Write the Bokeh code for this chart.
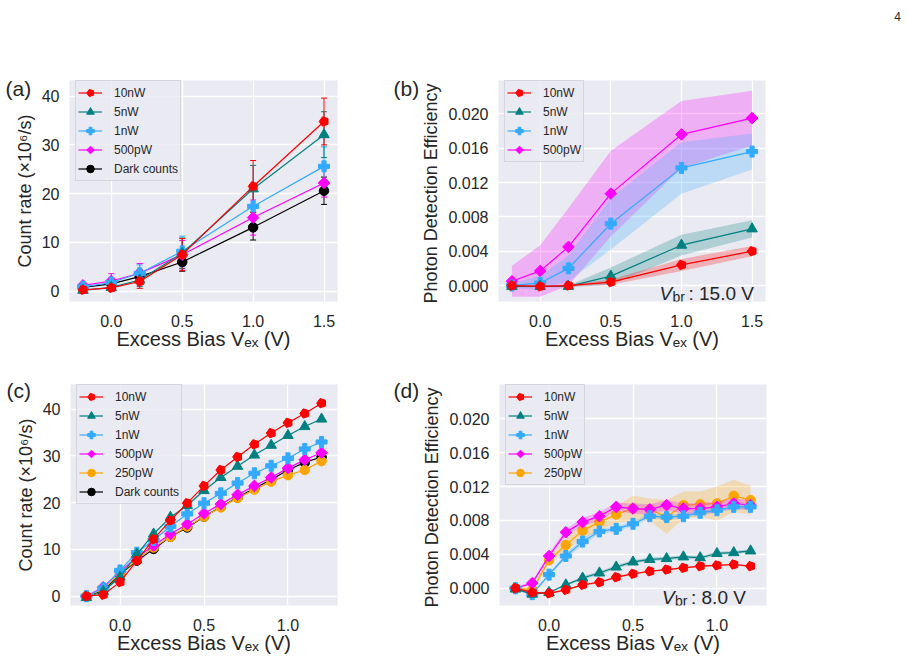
import math

from bokeh.embed import file_html
from bokeh.layouts import column, row
from bokeh.models import (ColumnDataSource, FixedTicker, Label, Legend, LegendItem,
                          Ngon, PrintfTickFormatter, Range1d, TeeHead, Whisker)
from bokeh.plotting import figure
from bokeh.resources import INLINE

# ---------------------------------------------------------------- data
# (a)/(b): device with V_br = 15.0 V
bias_a = [-0.2, 0.0, 0.2, 0.5, 1.0, 1.5]
rate_a_10nW = [0.3, 0.7, 2.0, 7.5, 21.5, 34.8]
rate_a_5nW = [0.2, 0.8, 2.3, 7.8, 21.0, 32.1]
rate_a_1nW = [0.9, 1.8, 3.7, 8.2, 17.4, 25.6]
rate_a_500pW = [1.2, 2.1, 3.7, 7.5, 15.1, 22.2]
rate_a_dark = [0.8, 1.5, 3.0, 6.0, 13.1, 20.6]
err_a_10nW = [0.5, 0.7, 1.4, 3.3, 5.3, 4.8]
err_a_5nW = [0.5, 0.7, 1.3, 3.1, 4.8, 4.7]
err_a_1nW = [0.6, 1.0, 1.7, 3.1, 3.6, 4.0]
err_a_500pW = [0.6, 1.5, 2.0, 2.9, 3.6, 2.9]
err_a_dark = [0.5, 0.8, 1.4, 1.9, 2.6, 2.8]

pde_b_10nW = [0.0000, -0.0001, 0.0000, 0.0004, 0.0024, 0.0040]
pde_b_5nW = [-0.0001, -0.0001, -0.0001, 0.0011, 0.0047, 0.0066]
pde_b_1nW = [0.0000, 0.0003, 0.0020, 0.0072, 0.0137, 0.0156]
pde_b_500pW = [0.0005, 0.0017, 0.0045, 0.0107, 0.0176, 0.0195]
std_b_10nW = [0.0001, 0.0001, 0.0001, 0.0003, 0.0007, 0.0006]
std_b_5nW = [0.0001, 0.0001, 0.0001, 0.0010, 0.0012, 0.0010]
std_b_1nW = [0.0003, 0.0008, 0.0015, 0.0030, 0.0030, 0.0021]
std_b_500pW = [0.0018, 0.0030, 0.0045, 0.0050, 0.0039, 0.0032]

# (c)/(d): device with V_br = 8.0 V
bias_c = [-0.2, -0.1, 0.0, 0.1, 0.2, 0.3, 0.4, 0.5, 0.6, 0.7, 0.8, 0.9, 1.0, 1.1, 1.2]
rate_c_10nW = [0.0, 0.3, 3.0, 7.6, 12.2, 16.2, 19.9, 23.6, 27.0, 29.8, 32.5, 34.9, 37.1, 39.1, 41.3]
rate_c_5nW = [-0.3, 1.0, 4.1, 9.0, 13.3, 16.9, 19.4, 22.6, 25.4, 27.8, 30.2, 32.3, 34.4, 36.3, 37.9]
rate_c_1nW = [0.0, 1.7, 5.5, 9.3, 12.0, 14.9, 17.6, 19.9, 22.0, 24.2, 26.3, 27.9, 29.5, 31.5, 33.0]
rate_c_500pW = [0.0, 1.9, 5.3, 8.3, 10.8, 13.3, 15.4, 17.7, 19.7, 21.7, 23.6, 25.4, 27.4, 29.2, 30.7]
rate_c_250pW = [0.0, 1.5, 4.9, 7.8, 10.4, 12.7, 14.9, 17.0, 19.0, 21.0, 22.8, 24.5, 25.9, 27.0, 28.9]
rate_c_dark = [0.0, 1.2, 4.6, 7.6, 10.1, 12.7, 14.7, 17.0, 19.1, 21.1, 23.1, 24.9, 27.0, 28.6, 29.8]

pde_d_10nW = [0.0000, -0.0005, -0.0006, -0.0002, 0.0004, 0.0007, 0.0013, 0.0017, 0.0020,
              0.0022, 0.0024, 0.0026, 0.0027, 0.0028, 0.0026]
pde_d_5nW = [-0.0001, -0.0007, -0.0005, 0.0004, 0.0012, 0.0018, 0.0025, 0.0031, 0.0034,
             0.0035, 0.0037, 0.0036, 0.0041, 0.0042, 0.0044]
pde_d_1nW = [0.0000, -0.0007, 0.0016, 0.0038, 0.0055, 0.0067, 0.0070, 0.0076, 0.0085,
             0.0084, 0.0085, 0.0089, 0.0092, 0.0096, 0.0096]
pde_d_500pW = [0.0000, 0.0006, 0.0038, 0.0066, 0.0078, 0.0085, 0.0096, 0.0094, 0.0093,
               0.0098, 0.0094, 0.0094, 0.0096, 0.0100, 0.0098]
pde_d_250pW = [0.0000, -0.0002, 0.0033, 0.0051, 0.0068, 0.0078, 0.0087, 0.0094, 0.0093,
               0.0084, 0.0098, 0.0099, 0.0100, 0.0109, 0.0104]
std_d_10nW = [0.0001, 0.0001, 0.0001, 0.0001, 0.0001, 0.0001, 0.0001, 0.0001, 0.0001,
              0.0001, 0.0001, 0.0001, 0.0001, 0.0001, 0.0001]
std_d_5nW = [0.0001, 0.0001, 0.0001, 0.0001, 0.0002, 0.0002, 0.0002, 0.0002, 0.0002,
             0.0002, 0.0002, 0.0002, 0.0002, 0.0002, 0.0002]
std_d_1nW = [0.0001, 0.0001, 0.0002, 0.0003, 0.0004, 0.0003, 0.0003, 0.0003, 0.0003,
             0.0003, 0.0003, 0.0003, 0.0003, 0.0003, 0.0003]
std_d_500pW = [0.0001, 0.0002, 0.0003, 0.0004, 0.0005, 0.0005, 0.0005, 0.0006, 0.0006,
               0.0006, 0.0006, 0.0007, 0.0006, 0.0006, 0.0006]
std_d_250pW = [0.0002, 0.0002, 0.0004, 0.0007, 0.0009, 0.0010, 0.0010, 0.0015, 0.0013,
               0.0020, 0.0016, 0.0015, 0.0020, 0.0019, 0.0017]

ticks_x_ab = [0.0, 0.5, 1.0, 1.5]
ticks_x_cd = [0.0, 0.5, 1.0]
ticks_rate = [0, 10, 20, 30, 40]
ticks_pde = [0.000, 0.004, 0.008, 0.012, 0.016, 0.020]

X_LABEL = "Excess Bias Vₑₓ (V)"
RATE_LABEL = "Count rate (×10⁶/s)"
PDE_LABEL = "Photon Detection  Efficiency"

# ---------------------------------------------------------------- style
FONT = "Liberation Sans"
TEXT = "#262626"
BG = "#EAEAF2"
COLORS = {
    "10nW": "#ff0000",
    "5nW": "#008080",
    "1nW": "#33aaff",
    "500pW": "#ff00ff",
    "250pW": "#ffa500",
    "Dark counts": "#000000",
}
FRAME_H = 221


def make_panel(w, h, left, right, top, bottom, xr, yr, xticks, yticks, yfmt, ylabel,
               letter, letter_dx, letter_standoff):
    p = figure(width=w, height=h, x_range=Range1d(*xr), y_range=Range1d(*yr),
               output_backend="svg", toolbar_location=None,
               min_border_left=left, min_border_right=right,
               min_border_top=top, min_border_bottom=bottom)
    p.background_fill_color = BG
    p.border_fill_color = "white"
    p.outline_line_color = None
    p.grid.grid_line_color = "white"
    p.grid.grid_line_width = 1.3
    p.axis.axis_line_color = None
    p.axis.major_tick_line_color = None
    p.axis.minor_tick_line_color = None
    p.axis.major_tick_out = 0
    p.axis.major_tick_in = 0
    p.axis.minor_tick_out = 0
    p.axis.major_label_text_font = FONT
    p.axis.major_label_text_font_size = "16px"
    p.axis.major_label_text_color = TEXT
    p.xaxis.ticker = FixedTicker(ticks=xticks)
    p.yaxis.ticker = FixedTicker(ticks=yticks)
    p.xaxis.formatter = PrintfTickFormatter(format="%.1f")
    p.yaxis.formatter = PrintfTickFormatter(format=yfmt)
    p.xaxis.major_label_standoff = 13
    p.yaxis.major_label_standoff = 10
    p.axis.axis_label_text_font = FONT
    p.axis.axis_label_text_font_style = "normal"
    p.axis.axis_label_text_color = TEXT
    p.yaxis.axis_label = ylabel
    p.yaxis.axis_label_text_font_size = "18px"
    p.yaxis.axis_label_standoff = 4
    p.xaxis.axis_label = X_LABEL
    p.xaxis.axis_label_text_font_size = "20px"
    p.xaxis.axis_label_standoff = -2
    # panel letter, set to the left of the frame's top corner
    p.title.text = letter
    p.title.align = "left"
    p.title.offset = letter_dx
    p.title.standoff = letter_standoff
    p.title.text_font = FONT
    p.title.text_font_size = "21px"
    p.title.text_font_style = "normal"
    p.title.text_color = TEXT
    return p


def draw_markers(p, src, name, color):
    if name == "10nW":
        glyph = Ngon(x="x", y="y", radius=4.9, radius_units="screen", n=5,
                     angle=math.pi / 2, fill_color=color, line_color=color)
        return p.add_glyph(src, glyph)
    if name == "500pW":
        glyph = Ngon(x="x", y="y", radius=5.8, radius_units="screen", n=4,
                     angle=0.0, fill_color=color, line_color=color)
        return p.add_glyph(src, glyph)
    if name == "5nW":
        return p.scatter("x", "y", source=src, marker="triangle", size=10.5,
                         fill_color=color, line_color=color)
    if name == "1nW":
        return p.scatter("x", "y", source=src, marker="plus", size=11,
                         fill_color=color, line_color=color)
    return p.scatter("x", "y", source=src, marker="circle", size=9.5,
                     fill_color=color, line_color=color)


def draw_series(p, xs, ys, name, err=None, band=None):
    color = COLORS[name]
    src = ColumnDataSource(dict(x=xs, y=ys))
    if band is not None:
        p.varea(x=xs, y1=[v - s for v, s in zip(ys, band)],
                y2=[v + s for v, s in zip(ys, band)],
                fill_color=color, fill_alpha=0.25)
    if err is not None:
        esrc = ColumnDataSource(dict(x=xs, lo=[v - e for v, e in zip(ys, err)],
                                     hi=[v + e for v, e in zip(ys, err)]))
        p.add_layout(Whisker(source=esrc, base="x", lower="lo", upper="hi",
                             line_color=color, line_width=1,
                             lower_head=TeeHead(size=6, line_color=color, line_width=1),
                             upper_head=TeeHead(size=6, line_color=color, line_width=1)))
    line = p.line("x", "y", source=src, line_color=color, line_width=1.2)
    mark = draw_markers(p, src, name, color)
    return LegendItem(label=name, renderers=[line, mark])


def add_legend(p, items):
    n = len(items)
    pad, gh = 2, 19
    height = 2 * pad + n * gh
    leg = Legend(items=items, location=(6, FRAME_H - 2 - height),
                 padding=pad, margin=0, spacing=0,
                 glyph_height=gh, glyph_width=24, label_height=gh, label_standoff=12,
                 label_text_font=FONT, label_text_font_size="12px", label_text_color=TEXT,
                 background_fill_color=BG, background_fill_alpha=0.8,
                 border_line_color="#cfcfd6", border_line_alpha=0.8, border_line_width=1)
    p.add_layout(leg)


def text(p, x, y, s, size, style="normal", align="left"):
    # x, y are canvas pixels of this figure, measured from its top-left corner
    p.add_layout(Label(x=x, y=y, x_units="canvas", y_units="canvas", text=s,
                       text_font=FONT, text_font_size=size,
                       text_font_style=style, text_color=TEXT,
                       text_align=align, text_baseline="alphabetic"))


def vbr_label(p, x0, base, volts):
    text(p, x0, base, "V", "19px", style="italic")
    text(p, x0 + 13, base + 3, "br", "14px")
    text(p, x0 + 29, base, ": %s V" % volts, "19px")


# ---------------------------------------------------------------- page number strip
STRIP_H = 24
strip = figure(width=908, height=STRIP_H, output_backend="svg", toolbar_location=None,
               x_axis_location=None, y_axis_location=None,
               min_border_left=0, min_border_right=0, min_border_top=0, min_border_bottom=0)
strip.outline_line_color = None
strip.grid.visible = False
strip.background_fill_color = "white"
strip.border_fill_color = "white"
text(strip, 897, 16, "4", "12px", align="center")

TOP_H = 360 - STRIP_H
TOP_B = 80 - STRIP_H

# ---------------------------------------------------------------- (a)
xr_ab = (-0.295, 1.595)
yr_a = (-2.1, 43.2)
pa = make_panel(390, TOP_H, 69, 53, TOP_B, 59, xr_ab, yr_a, ticks_x_ab, ticks_rate, "%d",
                RATE_LABEL, "(a)", -64, -38)
items_a = {}
items_a["Dark counts"] = draw_series(pa, bias_a, rate_a_dark, "Dark counts", err=err_a_dark)
items_a["500pW"] = draw_series(pa, bias_a, rate_a_500pW, "500pW", err=err_a_500pW)
items_a["1nW"] = draw_series(pa, bias_a, rate_a_1nW, "1nW", err=err_a_1nW)
items_a["5nW"] = draw_series(pa, bias_a, rate_a_5nW, "5nW", err=err_a_5nW)
items_a["10nW"] = draw_series(pa, bias_a, rate_a_10nW, "10nW", err=err_a_10nW)
add_legend(pa, [items_a[k] for k in ["10nW", "5nW", "1nW", "500pW", "Dark counts"]])

# ---------------------------------------------------------------- (b)
yr_b = (-0.00186, 0.02388)
pb = make_panel(518, TOP_H, 108, 143, TOP_B, 59, xr_ab, yr_b, ticks_x_ab, ticks_pde, "%.3f",
                PDE_LABEL, "(b)", -105, -38)
items_b = {}
items_b["500pW"] = draw_series(pb, bias_a, pde_b_500pW, "500pW", band=std_b_500pW)
items_b["1nW"] = draw_series(pb, bias_a, pde_b_1nW, "1nW", band=std_b_1nW)
items_b["5nW"] = draw_series(pb, bias_a, pde_b_5nW, "5nW", band=std_b_5nW)
items_b["10nW"] = draw_series(pb, bias_a, pde_b_10nW, "10nW", band=std_b_10nW)
add_legend(pb, [items_b[k] for k in ["10nW", "5nW", "1nW", "500pW"]])
vbr_label(pb, 269, 293 - STRIP_H, "15.0")

# ---------------------------------------------------------------- (c)
xr_cd = (-0.295, 1.295)
yr_c = (-2.0, 45.3)
pc = make_panel(390, 300, 70, 53, 24, 55, xr_cd, yr_c, ticks_x_cd, ticks_rate, "%d",
                RATE_LABEL, "(c)", -64, -34)
items_c = {}
items_c["Dark counts"] = draw_series(pc, bias_c, rate_c_dark, "Dark counts")
items_c["250pW"] = draw_series(pc, bias_c, rate_c_250pW, "250pW")
items_c["500pW"] = draw_series(pc, bias_c, rate_c_500pW, "500pW")
items_c["1nW"] = draw_series(pc, bias_c, rate_c_1nW, "1nW")
items_c["5nW"] = draw_series(pc, bias_c, rate_c_5nW, "5nW")
items_c["10nW"] = draw_series(pc, bias_c, rate_c_10nW, "10nW")
add_legend(pc, [items_c[k] for k in ["10nW", "5nW", "1nW", "500pW", "250pW", "Dark counts"]])

# ---------------------------------------------------------------- (d)
yr_d = (-0.00204, 0.02404)
pd = make_panel(518, 300, 109, 142, 24, 55, xr_cd, yr_d, ticks_x_cd, ticks_pde, "%.3f",
                PDE_LABEL, "(d)", -106, -34)
items_d = {}
items_d["250pW"] = draw_series(pd, bias_c, pde_d_250pW, "250pW", band=std_d_250pW)
items_d["500pW"] = draw_series(pd, bias_c, pde_d_500pW, "500pW", band=std_d_500pW)
items_d["1nW"] = draw_series(pd, bias_c, pde_d_1nW, "1nW", band=std_d_1nW)
items_d["5nW"] = draw_series(pd, bias_c, pde_d_5nW, "5nW", band=std_d_5nW)
items_d["10nW"] = draw_series(pd, bias_c, pde_d_10nW, "10nW", band=std_d_10nW)
add_legend(pd, [items_d[k] for k in ["10nW", "5nW", "1nW", "500pW", "250pW"]])
vbr_label(pd, 271.5, 237, "8.0")

layout = column(strip, row(pa, pb), row(pc, pd))
open("out.html", "w").write(file_html(layout, INLINE))
